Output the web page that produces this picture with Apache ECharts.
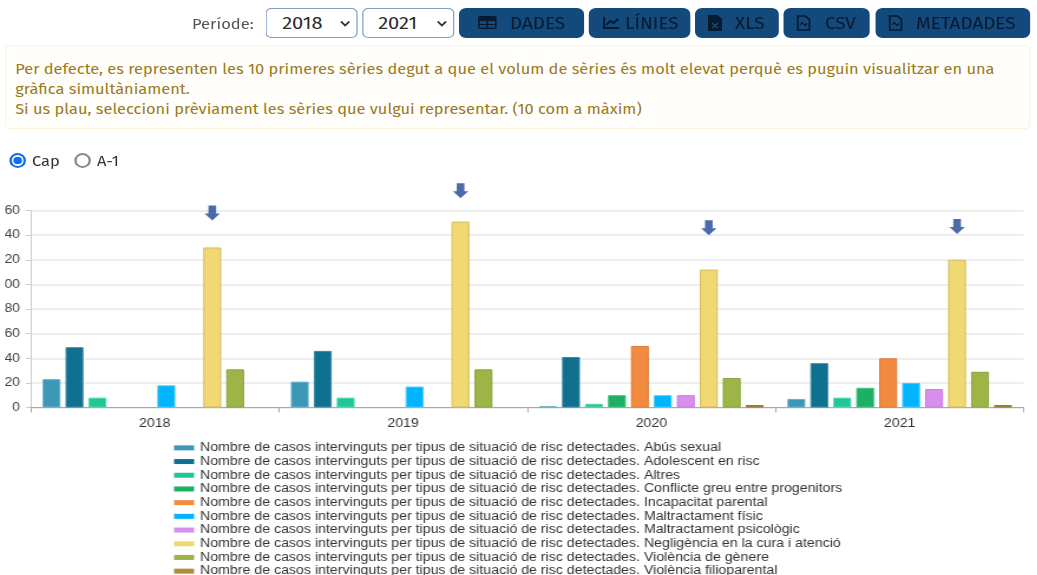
<!DOCTYPE html>
<html><head><meta charset="utf-8">
<script src="https://cdn.jsdelivr.net/npm/echarts@6/dist/echarts.min.js"></script>
<style>
:root{--s:1.18;}
html,body{margin:0;padding:0;background:#fff;width:1037px;height:575px;overflow:hidden;}
#page{position:absolute;left:0;top:0;width:879px;height:575px;transform:scaleX(1.18);transform-origin:0 0;overflow:hidden;font-family:"Fira Sans","Open Sans",sans-serif;}
.abs{position:absolute;box-sizing:border-box;white-space:nowrap;}
.sel{top:8px;height:30px;width:calc(92px / var(--s));border:1px solid #7f9cc0;border-radius:5px;background:#fff;font-size:17px;color:#2b2b2b;line-height:30px;padding-left:calc(15px / var(--s));}
.sel svg{position:absolute;right:calc(6px / var(--s));top:11px;}
.btn{top:8px;height:30px;background:#14497c;border-radius:6px;}
.txt{top:9px;color:#061a30;font-size:16px;line-height:30px;}
.ic{top:15px;}
.note{left:calc(5px / var(--s));top:45px;width:calc(1025px / var(--s));height:84px;border:1px solid #fdf3d6;border-radius:4px;background:#fffefb;color:#9a7a20;font-size:13.900px;line-height:20px;padding:14px 0 0 calc(9px / var(--s));}
.radio{top:153px;width:calc(17px / var(--s));height:15px;border-radius:50%;}
.lab{font-size:14px;color:#333;top:153px;}
#clip{position:absolute;left:calc(5.500px / var(--s));top:175px;width:875px;height:400px;overflow:hidden;}
#chart{position:absolute;left:calc(-17.500px / var(--s));top:0;width:889px;height:420px;}
</style></head><body><div id="page">
<div class="abs" style="left:calc(192px / var(--s));top:16px;font-size:14px;color:#555">Període:</div>
<div class="abs sel" style="left:calc(266px / var(--s))">2018<svg width="9" height="8"><path d="M1 1.500l3.500 4 3.500-4" stroke="#333" stroke-width="1.800" fill="none"/></svg></div>
<div class="abs sel" style="left:calc(362px / var(--s))">2021<svg width="9" height="8"><path d="M1 1.500l3.500 4 3.500-4" stroke="#333" stroke-width="1.800" fill="none"/></svg></div>
<div class="abs btn" style="left:calc(459px / var(--s));width:calc(125px / var(--s))"></div>
<div class="abs btn" style="left:calc(589px / var(--s));width:calc(101px / var(--s))"></div>
<div class="abs btn" style="left:calc(695px / var(--s));width:calc(84px / var(--s))"></div>
<div class="abs btn" style="left:calc(784px / var(--s));width:calc(86px / var(--s))"></div>
<div class="abs btn" style="left:calc(875px / var(--s));width:calc(155px / var(--s))"></div>
<svg class="abs ic" style="left:calc(478px / var(--s))" width="16" height="15"><rect x="0" y="1" width="16" height="13" rx="2" fill="#061a30"/><path d="M1.500 6h13v3h-13zM1.500 10h13v2.500h-13z" fill="#14497c"/><path d="M8 5v9" stroke="#061a30" stroke-width="1.500"/></svg>
<div class="abs txt" style="left:calc(510px / var(--s))">DADES</div>
<svg class="abs ic" style="left:calc(603px / var(--s))" width="14" height="15"><path d="M1 2v11h13" stroke="#061a30" stroke-width="1.800" fill="none"/><path d="M3 10l3-4 3 2 4-4" stroke="#061a30" stroke-width="1.800" fill="none"/></svg>
<div class="abs txt" style="left:calc(625px / var(--s))">LÍNIES</div>
<svg class="abs ic" style="left:calc(708px / var(--s))" width="12" height="16"><path d="M0 0h8l4 4v12H0z" fill="#061a30"/><path d="M3.500 8l5 5M8.500 8l-5 5" stroke="#14497c" stroke-width="1.300"/></svg>
<div class="abs txt" style="left:calc(735px / var(--s))">XLS</div>
<svg class="abs ic" style="left:calc(797px / var(--s))" width="12" height="16"><path d="M1 1h6.500l3.500 3.500V15H1z" stroke="#061a30" stroke-width="1.600" fill="none"/><path d="M3 10l2-2.500 2 3 2-2" stroke="#061a30" stroke-width="1.200" fill="none"/></svg>
<div class="abs txt" style="left:calc(825px / var(--s))">CSV</div>
<svg class="abs ic" style="left:calc(888px / var(--s))" width="12" height="16"><path d="M1 1h6.500l3.500 3.500V15H1z" stroke="#061a30" stroke-width="1.600" fill="none"/><path d="M3 10l2-2.500 2 3 2-2" stroke="#061a30" stroke-width="1.200" fill="none"/></svg>
<div class="abs txt" style="left:calc(916px / var(--s))">METADADES</div>
<div class="abs note">Per defecte, es representen les 10 primeres sèries degut a que el volum de sèries és molt elevat perquè es puguin visualitzar en una<br>gràfica simultàniament.<br>Si us plau, seleccioni prèviament les sèries que vulgui representar. (10 com a màxim)</div>
<div class="abs radio" style="left:calc(9px / var(--s));border:2px solid #0d6efd;background:radial-gradient(circle,#0d6efd 0 3.500px,#fff 4px)"></div>
<div class="abs lab" style="left:calc(32px / var(--s))">Cap</div>
<div class="abs radio" style="left:calc(74px / var(--s));border:2px solid #8a8a92"></div>
<div class="abs lab" style="left:calc(97px / var(--s))">A-1</div>
<div id="clip"><div id="chart"></div></div>
</div>
<script>
const years = ['2018','2019','2020','2021'];
const seriesPrefix = 'Nombre de casos intervinguts per tipus de situació de risc detectades. ';
const names = ['Abús sexual','Adolescent en risc','Altres','Conflicte greu entre progenitors','Incapacitat parental','Maltractament físic','Maltractament psicològic','Negligència en la cura i atenció','Violència de gènere','Violència filioparental'];
const abusSexual = [23,21,1,7];
const adolescent = [49,46,41,36];
const altres = [8,8,3,8];
const conflicte = [null,null,10,16];
const incapacitat = [null,null,50,40];
const fisic = [18,17,10,20];
const psicologic = [null,null,10,15];
const negligencia = [130,151,112,120];
const genere = [31,31,24,29];
const filioparental = [null,null,2,2];
const arrowLevels = [158,176,146,147];
const values = [abusSexual,adolescent,altres,conflicte,incapacitat,fisic,psicologic,negligencia,genere,filioparental];
const colors = ['#3d98b8','#10708f','#1fc795','#1cb062','#f28a40','#00b4ff','#d78eed','#f0d872','#9db546','#b08c3c'];
const borders = ['#6ab0c9','#3d8aa5','#52d6ae','#45c080','#dd7a35','#40c8ff','#c97fe0','#d6bd5c','#8aa23c','#957630'];
const arrowPath = 'path://M3 0H9V8H12L6 15L0 8H3Z';
const chart = echarts.init(document.getElementById('chart'));
const bars = names.map((n,i)=>({
  name: seriesPrefix+n, type:'bar', data: values[i], barWidth:15.2, barGap:'28%',
  itemStyle:{color:colors[i],borderColor:borders[i],borderWidth:1}, emphasis:{disabled:true}
}));
bars.push({
  type:'scatter', data: arrowLevels, clip:false, symbol:arrowPath, symbolSize:[13,15], symbolOffset:[48.700,0],
  itemStyle:{color:'#1f4394'}, silent:true, legendHoverLink:false, tooltip:{show:false}
});
chart.setOption({
  animation:false,
  grid:{left:36,right:11.400,top:35.500,height:197},
  xAxis:{type:'category',data:years,axisLine:{lineStyle:{color:'#aaa'}},axisTick:{show:true,length:5,lineStyle:{color:'#aaa'}},
    axisLabel:{color:'#333',fontSize:12,fontFamily:'Liberation Sans',margin:10}},
  yAxis:{type:'value',min:0,max:160,interval:20,axisLine:{show:true,lineStyle:{color:'#ccc'}},axisTick:{show:true,length:4,lineStyle:{color:'#ccc'}},
    axisLabel:{color:'#444',fontSize:12,fontFamily:'Liberation Sans',margin:9},splitLine:{lineStyle:{color:'#e8e8e8',width:1.500}}},
  legend:{orient:'vertical',left:152.500,top:261,itemWidth:17,itemHeight:5,itemGap:0,itemStyle:{borderWidth:0},icon:'rect',
    data:names.map(n=>seriesPrefix+n),
    textStyle:{fontSize:12,color:'#333',fontFamily:'Liberation Sans',lineHeight:13.700,height:13.700,padding:[0,0,0,0]}},
  series:bars
});
</script>
</body></html>
